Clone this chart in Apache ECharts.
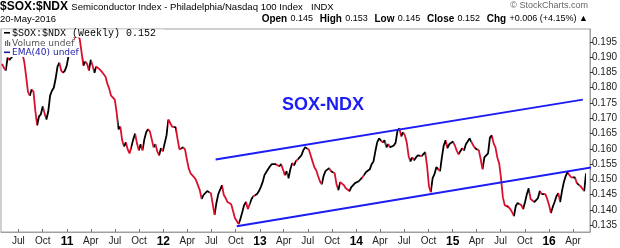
<!DOCTYPE html>
<html>
<head>
<meta charset="utf-8">
<script src="https://cdn.jsdelivr.net/npm/echarts@6/dist/echarts.min.js"></script>
<style>
html,body{margin:0;padding:0;background:#fff;}
#chart{width:620px;height:248px;}
</style>
</head>
<body>
<div id="chart"></div>
<script>
// ---- data ----
const firstWeek = '2010-04-30';   // weekly closes (Fridays) from this date
const ratioValues = [
0.1878,0.1865,0.1856,0.1898,0.1891,0.1898,0.1904,0.1917,0.1930,0.1937,
0.1924,0.1911,0.1885,0.1839,0.1787,0.1774,0.1794,0.1787,0.1725,0.1677,
0.1706,0.1713,0.1739,0.1716,0.1696,0.1722,0.1774,0.1790,0.1800,0.1830,
0.1869,0.1882,0.1856,0.1849,0.1856,0.1872,0.1904,0.1924,0.1943,0.1963,
0.1957,0.1970,0.1960,0.1917,0.1872,0.1885,0.1878,0.1856,0.1891,0.1872,
0.1849,0.1869,0.1865,0.1859,0.1852,0.1846,0.1836,0.1813,0.1797,0.1774,
0.1771,0.1761,0.1719,0.1664,0.1673,0.1628,0.1608,0.1621,0.1598,0.1585,
0.1579,0.1631,0.1650,0.1618,0.1595,0.1615,0.1595,0.1631,0.1654,0.1664,
0.1657,0.1631,0.1605,0.1615,0.1592,0.1579,0.1602,0.1592,0.1598,0.1644,
0.1696,0.1690,0.1673,0.1667,0.1670,0.1631,0.1598,0.1595,0.1605,0.1598,
0.1566,0.1536,0.1520,0.1514,0.1507,0.1497,0.1491,0.1465,0.1436,0.1449,
0.1455,0.1462,0.1468,0.1455,0.1419,0.1384,0.1423,0.1452,0.1458,0.1481,
0.1449,0.1439,0.1426,0.1423,0.1419,0.1397,0.1374,0.1364,0.1354,0.1371,
0.1393,0.1416,0.1426,0.1403,0.1400,0.1436,0.1445,0.1442,0.1452,0.1462,
0.1475,0.1491,0.1514,0.1524,0.1530,0.1543,0.1550,0.1550,0.1550,0.1546,
0.1543,0.1550,0.1533,0.1514,0.1527,0.1504,0.1533,0.1553,0.1546,0.1559,
0.1553,0.1572,0.1579,0.1595,0.1605,0.1611,0.1598,0.1595,0.1559,0.1540,
0.1530,0.1511,0.1494,0.1484,0.1511,0.1527,0.1533,0.1537,0.1527,0.1533,
0.1520,0.1484,0.1465,0.1491,0.1488,0.1481,0.1471,0.1465,0.1462,0.1475,
0.1478,0.1488,0.1494,0.1494,0.1497,0.1507,0.1501,0.1524,0.1527,0.1533,
0.1550,0.1559,0.1592,0.1621,0.1634,0.1634,0.1621,0.1628,0.1605,0.1615,
0.1605,0.1608,0.1611,0.1621,0.1660,0.1667,0.1641,0.1654,0.1644,0.1621,
0.1576,0.1559,0.1572,0.1563,0.1572,0.1579,0.1585,0.1576,0.1582,0.1589,
0.1543,0.1478,0.1458,0.1504,0.1517,0.1540,0.1540,0.1527,0.1572,0.1611,
0.1628,0.1602,0.1615,0.1618,0.1624,0.1611,0.1595,0.1582,0.1592,0.1602,
0.1595,0.1615,0.1621,0.1634,0.1637,0.1611,0.1602,0.1602,0.1595,0.1566,
0.1533,0.1572,0.1576,0.1585,0.1637,0.1644,0.1618,0.1605,0.1572,0.1553,
0.1504,0.1442,0.1416,0.1410,0.1410,0.1403,0.1393,0.1380,0.1413,0.1423,
0.1426,0.1416,0.1403,0.1426,0.1452,0.1471,0.1436,0.1432,0.1426,0.1429,
0.1439,0.1462,0.1452,0.1458,0.1452,0.1436,0.1416,0.1390,0.1410,0.1426,
0.1445,0.1455,0.1426,0.1462,0.1491,0.1511,0.1524,0.1514,0.1507,0.1501,
0.1507,0.1488,0.1491,0.1478,0.1472,0.1462,0.1520
];
const upperChannel = [['2012-07-17', 0.1565], ['2016-05-08', 0.1761]];
const lowerChannel = [['2012-10-05', 0.1347], ['2016-07-27', 0.1546]];
const xTickMonths = ['2010-07','2010-10','2011-01','2011-04','2011-07','2011-10','2012-01','2012-04','2012-07','2012-10',
  '2013-01','2013-04','2013-07','2013-10','2014-01','2014-04','2014-07','2014-10','2015-01','2015-04','2015-07','2015-10',
  '2016-01','2016-04'];
const monthNames = ['Jan','Feb','Mar','Apr','May','Jun','Jul','Aug','Sep','Oct','Nov','Dec'];
const yTickValues = [0.135,0.140,0.145,0.150,0.155,0.160,0.165,0.170,0.175,0.180,0.185,0.190,0.195];

// ---- build ----
function utc(s){ const p = s.split('-').map(Number); return Date.UTC(p[0], p[1]-1, p[2] || 1); }
const WEEK = 7*24*3600*1000;
const t0 = utc(firstWeek);
const seriesData = ratioValues.map((v,i)=>[t0 + i*WEEK, v]);
const RED = '#d8102e', BLACK = '#000000', BLUE = '#1c1cf5';
const pieces = [];
for (let i=1;i<seriesData.length;i++){
  const c = ratioValues[i] >= ratioValues[i-1] ? BLACK : RED;
  const last = pieces[pieces.length-1];
  if (last && last.color === c) last.lte = seriesData[i][0];
  else pieces.push({gt: seriesData[i-1][0], lte: seriesData[i][0], color: c});
}
pieces[0].gte = pieces[0].gt - WEEK; delete pieces[0].gt;
const xTicks = xTickMonths.map(utc);
const FONT = '"Liberation Sans", Arial, sans-serif';

const chart = echarts.init(document.getElementById('chart'), null, {renderer:'canvas'});
chart.setOption({
  animation: false,
  backgroundColor: '#fff',
  grid: {left: 1, right: 29, top: 29, bottom: 15, show: true, borderColor: '#a0a0a0', borderWidth: 1},
  xAxis: {
    type: 'value', min: Date.UTC(2010,3,26), max: Date.UTC(2016,5,4),
    axisLine: {show: true, lineStyle: {color: '#a0a0a0'}},
    axisTick: {show: true, inside: true, length: 3, customValues: xTicks, lineStyle: {color: '#777'}},
    splitLine: {show: false},
    axisLabel: {
      customValues: xTicks, margin: 4, color: '#222', fontSize: 10, fontFamily: FONT,
      hideOverlap: false, showMinLabel: true, showMaxLabel: true,
      formatter: function(v){
        const d = new Date(v); const m = d.getUTCMonth();
        if (m === 0) return '{y|' + String(d.getUTCFullYear()).slice(2) + '}';
        return monthNames[m];
      },
      rich: {y: {fontWeight: 'bold', fontSize: 12, fontFamily: FONT, color: '#000'}}
    }
  },
  yAxis: {
    type: 'value', position: 'right', min: 0.1328, max: 0.1992, scale: true,
    axisLine: {show: true, lineStyle: {color: '#a0a0a0'}},
    axisTick: {show: true, length: 3, customValues: yTickValues, lineStyle: {color: '#333'}},
    splitLine: {show: false},
    axisLabel: {customValues: yTickValues, margin: 2, color: '#222', fontSize: 10, fontFamily: FONT,
      formatter: v => v.toFixed(3)}
  },
  visualMap: {show: false, type: 'piecewise', dimension: 0, seriesIndex: 0, pieces: pieces},
  series: [
    {type: 'line', data: seriesData, showSymbol: false, lineStyle: {width: 1.8}, z: 3},
    {type: 'line', data: upperChannel.map(p=>[utc(p[0]), p[1]]), showSymbol: false, clip: false,
      lineStyle: {color: BLUE, width: 2}, itemStyle: {color: BLUE}, z: 4},
    {type: 'line', data: lowerChannel.map(p=>[utc(p[0]), p[1]]), showSymbol: false, clip: false,
      lineStyle: {color: BLUE, width: 2}, itemStyle: {color: BLUE}, z: 4}
  ],
  graphic: [
    {type: 'text', x: 0, y: 7, style: {text: '{a|$SOX:$NDX} {b|Semiconductor Index - Philadelphia/Nasdaq 100 Index}',
      verticalAlign: 'middle', rich: {a: {font: 'bold 12px ' + FONT, fill: '#000'}, b: {font: '9.6px ' + FONT, fill: '#000'}}}},
    {type: 'text', x: 311, y: 7, style: {text: 'INDX', font: '9.5px ' + FONT, fill: '#000', verticalAlign: 'middle'}},
    {type: 'text', x: 588, y: 6, style: {text: '© StockCharts.com', font: '9px ' + FONT, fill: '#666', align: 'right', verticalAlign: 'middle'}},
    {type: 'text', x: 0, y: 19, style: {text: '20-May-2016', font: '9.5px ' + FONT, fill: '#000', verticalAlign: 'middle'}},
    {type: 'text', x: 588, y: 19, style: {
      text: '{k|Open} {v|0.145}  {k|High} {v|0.153}  {k|Low} {v|0.145}  {k|Close} {v|0.152}  {k|Chg} {v|+0.006 (+4.15%) ▲}',
      align: 'right', verticalAlign: 'middle',
      rich: {k: {font: 'bold 10px ' + FONT, fill: '#000'}, v: {font: '9px ' + FONT, fill: '#000'}}}},
    // legend
    {type: 'rect', shape: {x: 2, y: 29.5, width: 162, height: 8}, style: {fill: '#fff'}, z: 10},
    {type: 'rect', shape: {x: 3, y: 38, width: 71, height: 19}, style: {fill: '#fff'}, z: 10},
    {type: 'rect', shape: {x: 4, y: 32, width: 6, height: 1.6}, style: {fill: '#000'}, z: 11},
    {type: 'text', x: 12, y: 33, z: 11, style: {text: '$SOX:$NDX (Weekly) 0.152', font: '10px "Liberation Mono", monospace', fill: '#000', verticalAlign: 'middle'}},
    {type: 'rect', shape: {x: 5, y: 41, width: 1.2, height: 5}, style: {fill: '#666'}, z: 11},
    {type: 'rect', shape: {x: 7, y: 40, width: 1.2, height: 6}, style: {fill: '#666'}, z: 11},
    {type: 'rect', shape: {x: 9, y: 42, width: 1.2, height: 4}, style: {fill: '#666'}, z: 11},
    {type: 'text', x: 12, y: 43.5, z: 11, style: {text: 'Volume undef', font: '9px "DejaVu Sans", sans-serif', fill: '#555', verticalAlign: 'middle'}},
    {type: 'rect', shape: {x: 4, y: 51.5, width: 6, height: 1.6}, style: {fill: '#1a1aa8'}, z: 11},
    {type: 'text', x: 12, y: 52.5, z: 11, style: {text: 'EMA(40) undef', font: '9px "DejaVu Sans", sans-serif', fill: '#1a1aa8', verticalAlign: 'middle'}},
    // annotation
    {type: 'text', x: 323, y: 105.5, z: 11, style: {text: 'SOX-NDX', font: 'bold 18px ' + FONT, fill: BLUE, align: 'center', verticalAlign: 'middle'}}
  ]
});
</script>
</body>
</html>
